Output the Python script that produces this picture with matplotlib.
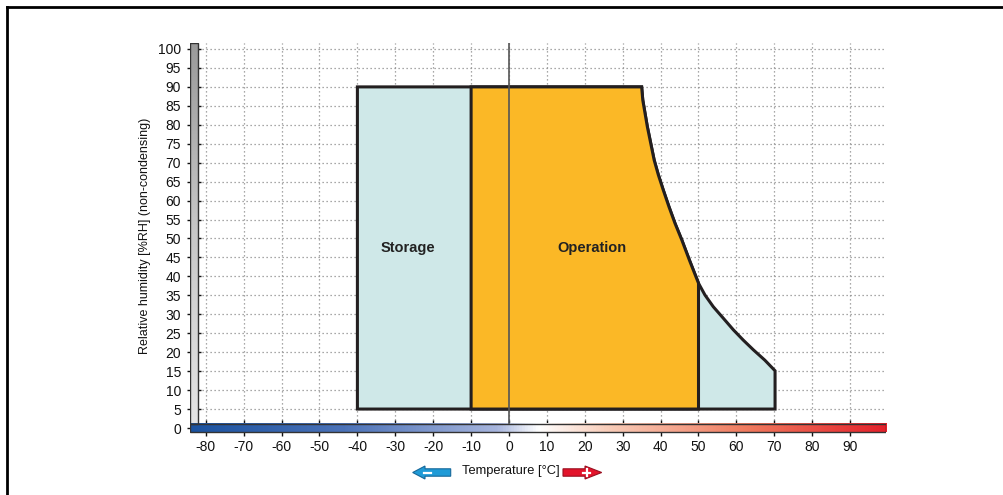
import numpy as np
import matplotlib.pyplot as plt
from matplotlib.colors import LinearSegmentedColormap
from matplotlib.patches import Polygon
from matplotlib.lines import Line2D

plt.rcParams['font.family'] = ['Liberation Sans', 'DejaVu Sans']
plt.rcParams['axes.unicode_minus'] = False

# storage / operation envelope (temperature in degC, humidity in %RH)
rh_min = 5
rh_max = 90
storage_t_min = -40
oper_t_min = -10
oper_t_max = 50
curve_t = [35, 35.3, 35.9, 36.5, 37.4, 38.3, 39.4, 40.7, 42.2, 43.8, 45.6, 47.6,
           50.0, 51.7, 53.9, 56.6, 59.2, 61.8, 64.5, 67.5, 70.2]
curve_rh = [90, 86.5, 83.0, 79.5, 75.1, 70.7, 66.8, 62.8, 58.4, 54.0, 49.6, 44.3,
            38.2, 35.1, 32.0, 28.9, 25.9, 23.2, 20.6, 17.9, 15.1]

x_ticks = list(range(-80, 100, 10))
y_ticks = list(range(0, 105, 5))

W, H = 1004, 495
fig = plt.figure(figsize=(W / 100, H / 100), dpi=100)

xlim = (-84.3, 99.5)
ylim = (-1.6, 101.6)
ppu = 3.79  # pixels per unit on both axes
x0_px, y0_px = 509, 428
left = (x0_px + xlim[0] * ppu) / W
width = (xlim[1] - xlim[0]) * ppu / W
bottom = (H - (y0_px - ylim[0] * ppu)) / H
height = (ylim[1] - ylim[0]) * ppu / H
ax = fig.add_axes([left, bottom, width, height])
ax.set_xlim(*xlim)
ax.set_ylim(*ylim)
for s in ax.spines.values():
    s.set_visible(False)

# dotted grid
grid_kw = dict(colors='#8c8c8c', linestyles=(0, (1, 2.2)), linewidth=0.9, zorder=1)
ax.vlines(x_ticks, 1.1, ylim[1], **grid_kw)
ax.hlines(y_ticks[1:], -82.1, xlim[1], **grid_kw)

# gray humidity bar on the left
gray = LinearSegmentedColormap.from_list('g', ['#e4e4e4', '#c8c8c8', '#9a9a9a'])
ax.imshow(np.linspace(0, 1, 256)[:, None], cmap=gray, origin='lower', aspect='auto',
          extent=(xlim[0], -82.1, 1.1, ylim[1]), zorder=2)
ax.add_patch(plt.Rectangle((xlim[0], 1.1), -82.1 - xlim[0], ylim[1] - 1.1,
                           fill=False, edgecolor='#333333', linewidth=1.0, zorder=3))

# temperature colour bar
temp = LinearSegmentedColormap.from_list(
    't', [(0.0, '#1a52a0'), (0.22, '#4b72b8'), (0.44, '#a7b5dd'),
          (0.5, '#ffffff'), (0.6, '#f9cdb9'), (0.8, '#f07a5e'), (1.0, '#e5202a')])
ax.imshow(np.linspace(0, 1, 512)[None, :], cmap=temp, aspect='auto',
          extent=(xlim[0], xlim[1], -1.1, 1.1), zorder=2)
ax.add_patch(plt.Rectangle((xlim[0], -1.1), xlim[1] - xlim[0], 2.2,
                           fill=False, edgecolor='#333333', linewidth=1.0, zorder=3))

# zero degree line
ax.vlines(0, 1.1, ylim[1], colors='#555555', linewidth=1.2, zorder=6)

edge = '#231f20'
storage_pts = ([(storage_t_min, rh_min), (storage_t_min, rh_max)]
               + list(zip(curve_t, curve_rh))
               + [(curve_t[-1], rh_min)])
ax.add_patch(Polygon(storage_pts, closed=True, facecolor='#cfe8e8',
                     edgecolor=edge, linewidth=2.2, joinstyle='miter', zorder=4))

op_curve = [(t, h) for t, h in zip(curve_t, curve_rh) if t <= oper_t_max]
oper_pts = ([(oper_t_min, rh_min), (oper_t_min, rh_max)] + op_curve
            + [(oper_t_max, rh_min)])
ax.add_patch(Polygon(oper_pts, closed=True, facecolor='#fbb826',
                     edgecolor=edge, linewidth=2.2, joinstyle='miter', zorder=5))

ax.text(-26.8, 47.5, 'Storage', ha='center', va='center', fontsize=10.5,
        fontweight='bold', color='#222222', zorder=7)
ax.text(21.8, 47.5, 'Operation', ha='center', va='center', fontsize=10.5,
        fontweight='bold', color='#222222', zorder=7)

# ticks crossing the bars
ax.spines['bottom'].set_position(('data', 0))
ax.spines['left'].set_position(('data', -83.2))
ax.set_xticks(x_ticks)
ax.set_yticks(y_ticks)
ax.tick_params(axis='x', direction='inout', length=11, width=1.0, pad=3,
               labelsize=10, colors='#111111')
ax.tick_params(axis='y', direction='inout', length=10, width=1.0, pad=4,
               labelsize=10, colors='#111111')
for t in ax.xaxis.get_major_ticks() + ax.yaxis.get_major_ticks():
    t.tick1line.set_zorder(8)

fig.text(145 / W, 1 - 236 / H, 'Relative humidity [%RH] (non-condensing)',
         rotation=90, ha='center', va='center', fontsize=9, color='#111111')
fig.text(511 / W, 1 - 471 / H, 'Temperature [°C]', ha='center', va='center',
         fontsize=9.3, color='#111111')


def px(x, y):
    return (x / W, 1 - y / H)


# direction arrows under the axis
yc = 472.5
blue = [(412.7, yc), (425, yc - 6.5), (425, yc - 3.7), (450.7, yc - 3.7),
        (450.7, yc + 3.7), (425, yc + 3.7), (425, yc + 6.5)]
red = [(601.7, yc), (585, yc - 6.5), (585, yc - 3.7), (563, yc - 3.7),
       (563, yc + 3.7), (585, yc + 3.7), (585, yc + 6.5)]
fig.add_artist(Polygon([px(*p) for p in blue], closed=True, facecolor='#1f9bd7',
                       edgecolor='#17689a', linewidth=0.8, transform=fig.transFigure))
fig.add_artist(Polygon([px(*p) for p in red], closed=True, facecolor='#e3142b',
                       edgecolor='#9a1020', linewidth=0.8, transform=fig.transFigure))
fig.add_artist(Line2D([px(424, yc)[0], px(431, yc)[0]], [px(0, yc)[1]] * 2,
                      color='white', linewidth=1.6, transform=fig.transFigure))
fig.add_artist(Line2D([px(583, yc)[0], px(590, yc)[0]], [px(0, yc)[1]] * 2,
                      color='white', linewidth=1.6, transform=fig.transFigure))
fig.add_artist(Line2D([px(586.5, 0)[0]] * 2, [px(0, yc - 3.5)[1], px(0, yc + 3.5)[1]],
                      color='white', linewidth=1.6, transform=fig.transFigure))

# outer frame (top and left edges)
fig.add_artist(Line2D([px(6.5, 0)[0], 1.0], [px(0, 6.5)[1]] * 2, color='black',
                      linewidth=2, transform=fig.transFigure))
fig.add_artist(Line2D([px(6.5, 0)[0]] * 2, [px(0, 6.5)[1], 0.0], color='black',
                      linewidth=2, transform=fig.transFigure))

fig.savefig('out.png', dpi=100)
